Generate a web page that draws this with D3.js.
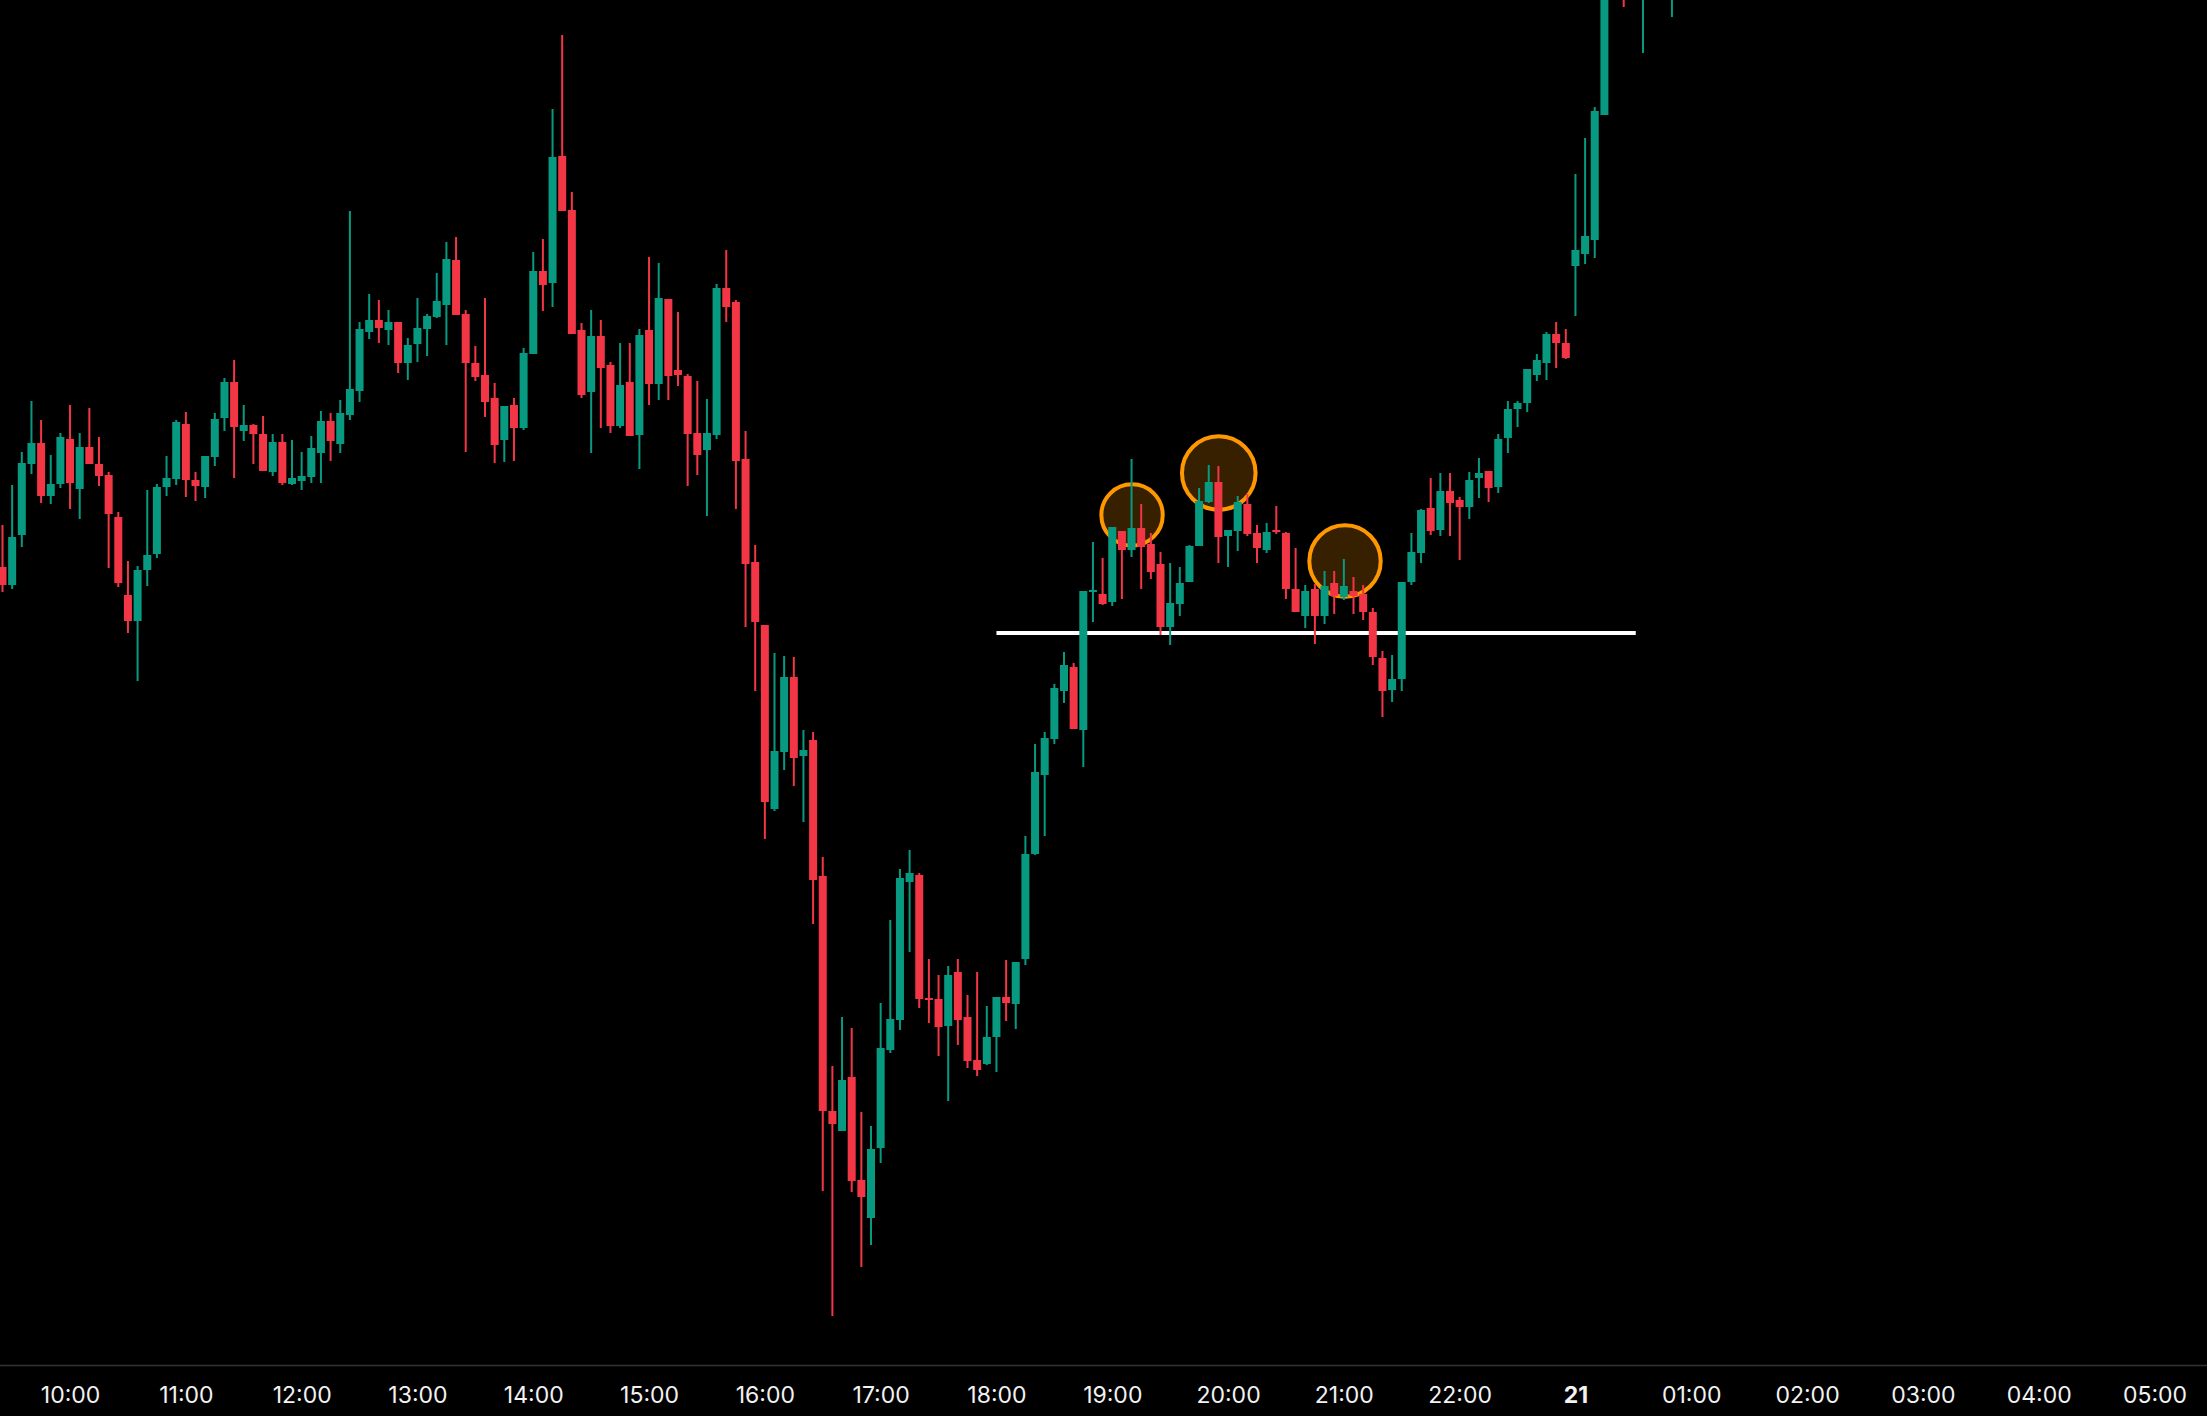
<!DOCTYPE html>
<html>
<head>
<meta charset="utf-8">
<script src="https://cdn.jsdelivr.net/npm/d3@7"></script>
<style>
  html, body { margin: 0; padding: 0; background: #000; }
  svg { display: block; }
</style>
</head>
<body>
<svg id="chart" width="2207" height="1416"></svg>
<script>
// ---- DATA (5-minute candles, 20th 09:25 -> 21st 00:50) ----
const sessionStart = "09:25";
const open = [2443.3,2441.5,2446.5,2453.6,2455.7,2450.4,2451.6,2456.1,2451.1,2455.3,
2453.6,2452.5,2448.3,2440.5,2437.9,2443.0,2444.6,2451.3,2452.1,2457.6,
2452.0,2451.3,2454.3,2458.2,2461.8,2456.9,2457.5,2456.6,2452.8,2455.8,
2451.6,2451.9,2452.3,2454.7,2457.9,2455.6,2458.5,2460.9,2466.8,2468.0,
2467.0,2467.8,2463.7,2465.6,2467.1,2468.3,2469.5,2474.0,2468.6,2463.7,
2462.5,2460.2,2456.0,2459.5,2457.2,2464.6,2472.9,2471.7,2484.4,2479.0,
2467.0,2460.8,2466.4,2463.5,2457.4,2461.8,2456.5,2467.0,2461.6,2470.1,
2463.0,2462.4,2456.7,2455.0,2456.5,2471.2,2469.8,2454.1,2443.8,2437.5,
2419.1,2424.8,2432.3,2424.4,2426.0,2412.4,2388.9,2386.9,2392.3,2382.0,
2378.2,2385.2,2395.0,2398.0,2411.8,2412.5,2400.2,2400.1,2397.4,2402.8,
2398.3,2394.0,2393.6,2396.3,2400.3,2399.6,2404.1,2414.6,2422.5,2426.1,
2430.9,2433.3,2427.0,2440.8,2440.6,2439.8,2446.9,2445.0,2447.2,2445.6,
2443.6,2437.3,2439.6,2441.8,2445.4,2449.8,2451.8,2446.4,2446.9,2449.6,
2446.7,2445.0,2447.0,2446.7,2441.1,2438.4,2441.1,2438.4,2441.7,2440.3,
2440.9,2440.6,2438.8,2434.2,2431.0,2432.1,2441.8,2444.7,2449.2,2447.0,
2450.9,2450.0,2449.3,2452.2,2452.9,2451.3,2456.2,2459.1,2459.7,2462.5,
2463.7,2466.6,2465.7,2473.4,2474.6,2476.0,2488.5,2506.0,2509.0,2504.0,
2505.0,2511.0,2509.0,2504.0];
const high = [2447.5,2451.5,2454.8,2459.9,2458.0,2454.5,2456.7,2459.5,2456.7,2459.2,
2456.3,2452.8,2448.8,2443.9,2443.4,2451.0,2451.6,2454.4,2458.0,2458.8,
2452.8,2454.4,2458.7,2462.2,2464.0,2459.5,2457.6,2458.4,2456.6,2456.6,
2456.0,2454.8,2456.4,2458.9,2458.7,2460.0,2478.9,2467.8,2470.6,2470.0,
2469.0,2467.8,2466.2,2470.2,2468.6,2472.7,2475.8,2476.3,2469.0,2465.4,
2470.2,2461.7,2459.4,2460.2,2465.2,2474.8,2476.1,2489.1,2496.5,2480.8,
2467.7,2469.0,2468.0,2463.8,2465.7,2465.7,2467.1,2474.3,2473.7,2470.1,
2468.8,2462.6,2461.9,2460.1,2471.6,2475.0,2470.0,2456.9,2445.5,2437.5,
2434.7,2434.4,2434.3,2427.0,2426.8,2414.3,2393.4,2398.3,2397.2,2388.8,
2387.4,2399.7,2408.0,2413.1,2415.0,2412.7,2404.1,2402.5,2403.4,2404.1,
2400.5,2402.8,2399.4,2400.3,2404.0,2403.8,2416.4,2425.6,2426.8,2431.6,
2434.8,2433.7,2440.9,2445.8,2444.2,2447.3,2446.9,2454.1,2449.6,2446.7,
2444.8,2443.7,2443.3,2445.5,2451.2,2453.5,2453.4,2447.0,2450.4,2450.6,
2447.5,2447.7,2449.4,2446.8,2445.2,2441.5,2441.6,2442.9,2442.9,2444.1,
2442.3,2441.5,2439.2,2434.9,2434.5,2441.8,2446.7,2449.1,2452.2,2452.7,
2452.7,2450.3,2452.8,2454.2,2452.9,2456.6,2459.9,2459.9,2463.1,2464.6,
2466.8,2467.8,2467.1,2482.6,2486.2,2489.3,2508.0,2513.0,2511.0,2510.0,
2513.0,2514.0,2512.0,2511.0];
const low = [2440.8,2441.1,2445.3,2452.6,2449.7,2449.6,2451.2,2449.1,2448.1,2453.6,
2451.4,2443.2,2441.3,2436.7,2431.9,2441.4,2444.2,2450.4,2451.5,2450.3,
2449.9,2450.2,2453.4,2456.9,2452.2,2455.9,2453.6,2452.9,2452.4,2451.5,
2451.5,2451.0,2451.7,2451.7,2453.9,2454.7,2458.0,2459.8,2466.1,2465.7,
2465.5,2462.7,2462.0,2463.8,2464.4,2468.2,2465.5,2468.5,2454.8,2461.9,
2458.3,2453.7,2453.8,2453.9,2457.0,2464.6,2468.9,2469.3,2478.9,2466.6,
2460.2,2454.7,2457.2,2456.7,2457.2,2456.4,2453.1,2459.5,2460.0,2460.0,
2461.4,2451.4,2452.5,2448.4,2456.1,2467.8,2449.1,2437.3,2430.9,2416.1,
2418.9,2423.0,2421.4,2417.8,2407.6,2380.9,2368.4,2386.9,2380.8,2373.3,
2375.5,2383.7,2394.7,2397.0,2404.8,2399.2,2397.7,2394.4,2389.9,2395.5,
2393.2,2392.4,2393.5,2392.8,2397.9,2397.1,2403.5,2414.5,2416.4,2425.6,
2429.7,2427.1,2423.3,2437.8,2439.5,2439.4,2440.1,2444.3,2441.1,2442.1,
2436.5,2435.5,2438.4,2441.8,2445.4,2449.7,2443.7,2443.3,2444.9,2446.4,
2443.7,2444.7,2446.6,2440.1,2438.8,2437.2,2435.6,2437.6,2438.6,2440.0,
2438.6,2438.0,2433.5,2428.3,2429.8,2430.9,2441.5,2443.7,2446.5,2446.4,
2446.4,2444.0,2448.1,2450.2,2449.8,2450.7,2454.7,2457.3,2458.8,2461.9,
2462.0,2463.2,2464.1,2468.4,2473.6,2474.2,2488.5,2501.5,2499.3,2501.0,
2494.7,2503.0,2502.0,2498.3];
const close = [2441.5,2446.3,2453.7,2455.7,2450.4,2451.6,2456.3,2451.7,2455.3,2453.6,
2452.4,2448.6,2441.7,2437.9,2443.0,2444.5,2451.3,2452.2,2457.8,2452.0,
2451.4,2454.4,2458.1,2461.8,2457.3,2457.5,2456.6,2452.9,2455.8,2451.7,
2452.2,2452.4,2455.2,2457.9,2455.9,2458.7,2461.1,2467.1,2468.0,2467.2,
2467.8,2463.7,2465.5,2467.2,2468.4,2469.9,2474.1,2468.5,2463.7,2462.3,
2459.8,2455.5,2459.4,2457.2,2464.7,2472.9,2471.5,2484.3,2478.9,2466.6,
2460.5,2466.4,2463.2,2457.4,2461.5,2456.4,2466.5,2461.6,2470.2,2462.4,
2462.5,2456.6,2454.5,2456.7,2471.2,2469.3,2453.9,2443.6,2437.8,2419.8,
2424.9,2432.3,2424.2,2425.0,2412.0,2388.9,2387.6,2392.0,2381.9,2380.3,
2385.1,2395.2,2398.1,2412.2,2412.7,2400.1,2400.0,2397.3,2402.5,2398.0,
2393.9,2393.0,2396.3,2400.3,2399.7,2403.8,2414.6,2422.8,2426.2,2431.2,
2433.5,2427.1,2440.9,2441.0,2439.6,2447.3,2445.0,2447.2,2445.3,2442.8,
2437.3,2439.7,2441.7,2445.4,2449.9,2451.8,2446.3,2447.0,2449.8,2446.6,
2445.2,2446.8,2446.8,2441.1,2438.8,2440.9,2438.4,2441.4,2440.4,2441.4,
2440.4,2438.8,2434.3,2430.9,2432.1,2441.8,2444.8,2449.0,2446.9,2450.9,
2449.7,2449.3,2452.0,2452.7,2451.2,2456.1,2459.1,2459.7,2463.1,2464.0,
2466.6,2465.7,2464.2,2475.0,2476.4,2488.9,2506.0,2510.0,2504.0,2507.0,
2511.0,2509.0,2506.0,2509.0];

// Annotations: highlighted swing highs (candle index, price) and the neckline level
const circleIndex = [117.05, 126.04, 139.12];
const circlePrice = [2448.5, 2452.7, 2443.9];
const levelPrice = 2436.7;
const levelFromIndex = 103;
const levelToIndex = 169.25;
const dayLabel = "21";

// ---- LAYOUT / STYLE ----
const W = 2207, H = 1416;
const plotBottom = 1365;
const circleRadius = [30.7, 36.8, 35.7];
const UP = "#089981", DOWN = "#F23645";

// time slots (5-min bars; the 23:00 hour is the daily break)
const totalSlots = 229;
const [sh, sm] = sessionStart.split(":").map(Number);
const slots = d3.range(totalSlots).map(i => {
  let m = sh * 60 + sm + i * 5;
  if (m >= 23 * 60) m += 60;
  const hh = Math.floor(m / 60) % 24, mm = m % 60;
  return { i, hh, mm, label: (hh === 0 && mm === 0) ? dayLabel : String(hh).padStart(2, "0") + ":" + String(mm).padStart(2, "0") };
});

const candles = open.map((o, i) => ({ i, o, h: high[i], l: low[i], c: close[i] }));

const x = d3.scaleLinear().domain([0, 223]).range([2.5, 2154.45]);
const y = d3.scaleLinear().domain([2500, 2363.5]).range([0, plotBottom]);

const svg = d3.select("#chart");
svg.append("rect").attr("width", W).attr("height", H).attr("fill", "#000");

const plot = svg.append("g");
svg.append("clipPath").attr("id", "clip").append("rect")
  .attr("x", 0).attr("y", 0).attr("width", W).attr("height", plotBottom);
plot.attr("clip-path", "url(#clip)");

// annotations beneath candles
plot.selectAll("circle.mark").data(circleIndex).join("circle")
  .attr("class", "mark")
  .attr("cx", d => x(d))
  .attr("cy", (d, k) => y(circlePrice[k]))
  .attr("r", (d, k) => circleRadius[k])
  .attr("fill", "rgba(255,152,0,0.21)")
  .attr("stroke", "#FF9800")
  .attr("stroke-width", 4);

plot.append("line")
  .attr("x1", x(levelFromIndex)).attr("x2", x(levelToIndex))
  .attr("y1", y(levelPrice)).attr("y2", y(levelPrice))
  .attr("stroke", "#ffffff").attr("stroke-width", 4);

// candles
const bodyW = 8, wickW = 2;
const g = plot.selectAll("g.candle").data(candles).join("g").attr("class", "candle");
g.append("rect")
  .attr("x", d => x(d.i) - wickW / 2)
  .attr("width", wickW)
  .attr("y", d => y(d.h))
  .attr("height", d => Math.max(1, y(d.l) - y(d.h)))
  .attr("fill", d => d.c >= d.o ? UP : DOWN);
g.append("rect")
  .attr("x", d => x(d.i) - bodyW / 2)
  .attr("width", bodyW)
  .attr("y", d => y(Math.max(d.o, d.c)))
  .attr("height", d => Math.max(2, Math.abs(y(d.o) - y(d.c))))
  .attr("fill", d => d.c >= d.o ? UP : DOWN);

// time axis
svg.append("line")
  .attr("x1", 0).attr("x2", W)
  .attr("y1", plotBottom + 0.5).attr("y2", plotBottom + 0.5)
  .attr("stroke", "#333333").attr("stroke-width", 1.5);

const ticks = slots.filter(s => s.mm === 0 && x(s.i) > 30 && x(s.i) < W - 30);
const xAxis = d3.axisBottom(x)
  .tickValues(ticks.map(s => s.i))
  .tickSize(0)
  .tickPadding(0)
  .tickFormat(v => slots[v].label);
const ax = svg.append("g").attr("transform", `translate(0,${plotBottom})`).call(xAxis);
ax.select(".domain").remove();
ax.selectAll("text")
  .attr("y", 38)
  .attr("dy", null)
  .attr("fill", "#f2f2f2")
  .style("font-family", "Inter, 'Noto Sans', sans-serif")
  .style("font-size", "23px")
  .style("font-weight", v => slots[v].label === dayLabel ? 700 : 400);
</script>
</body>
</html>
